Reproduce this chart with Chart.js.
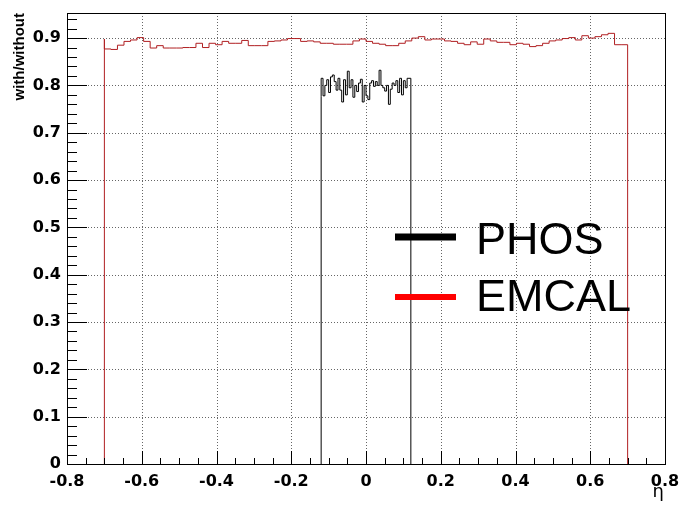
<!DOCTYPE html>
<html><head><meta charset="utf-8">
<script src="https://cdn.jsdelivr.net/npm/chart.js@4/dist/chart.umd.min.js"></script>
<style>html,body{margin:0;padding:0;background:#fff;}#wrap{width:680px;height:508px;}</style>
</head><body><div id="wrap"><canvas id="c" width="680" height="508"></canvas></div>
<script>
// ---- tick labels ----
const xTicks = [-0.8, -0.6, -0.4, -0.2, 0, 0.2, 0.4, 0.6, 0.8];
const xTickLabels = ['-0.8', '-0.6', '-0.4', '-0.2', '0', '0.2', '0.4', '0.6', '0.8'];
const yTicks = [0, 0.1, 0.2, 0.3, 0.4, 0.5, 0.6, 0.7, 0.8, 0.9];
const yTickLabels = ['0', '0.1', '0.2', '0.3', '0.4', '0.5', '0.6', '0.7', '0.8', '0.9'];
const xAxisTitle = 'η';
const yAxisTitle = 'with/without';
const seriesNames = ['PHOS', 'EMCAL'];

// ---- histogram ranges (bin edges) ----
const emcalRange = [-0.7, 0.7];
const phosRange = [-0.12, 0.12];

// ---- series values (one per bin) ----
const emcalValues = [
  0.898, 0.877, 0.876, 0.885, 0.893, 0.896, 0.901, 0.893, 0.879, 0.884,
  0.879, 0.879, 0.879, 0.880, 0.880, 0.889, 0.880, 0.889, 0.886, 0.893,
  0.889, 0.889, 0.895, 0.884, 0.884, 0.884, 0.893, 0.894, 0.896, 0.899,
  0.899, 0.893, 0.894, 0.892, 0.889, 0.889, 0.887, 0.887, 0.887, 0.894,
  0.898, 0.893, 0.889, 0.887, 0.884, 0.884, 0.889, 0.894, 0.900, 0.903,
  0.896, 0.898, 0.898, 0.894, 0.893, 0.889, 0.886, 0.892, 0.887, 0.898,
  0.894, 0.891, 0.891, 0.886, 0.889, 0.887, 0.882, 0.884, 0.889, 0.894,
  0.896, 0.899, 0.901, 0.896, 0.905, 0.900, 0.903, 0.907, 0.910, 0.886
];
const phosValues = [
  0.777, 0.815, 0.778, 0.800, 0.812, 0.785, 0.818, 0.822, 0.808, 0.790,
  0.815, 0.790, 0.765, 0.812, 0.780, 0.830, 0.795, 0.812, 0.775, 0.800,
  0.787, 0.805, 0.813, 0.765, 0.800, 0.778, 0.770, 0.805, 0.810, 0.798,
  0.808, 0.800, 0.832, 0.800, 0.795, 0.788, 0.800, 0.760, 0.792, 0.805,
  0.800, 0.810, 0.785, 0.815, 0.780, 0.810, 0.795, 0.815
];

function histPoints(range, vals) {
  const lo = range[0], hi = range[1], n = vals.length, w = (hi - lo) / n;
  const pts = [{x: lo, y: 0}];
  vals.forEach((v, i) => pts.push({x: lo + i * w, y: v}));
  pts.push({x: hi, y: vals[n - 1]});
  pts.push({x: hi, y: 0});
  return pts;
}

const tickFont = {family: "'DejaVu Sans', sans-serif", weight: 'bold', size: 16};
const EMCAL_COLOR = '#b01f22';

const rootStyle = {
  id: 'rootStyle',
  beforeDatasetsDraw(chart) {
    const {ctx, chartArea: a, scales: {x, y}} = chart;
    ctx.save();
    ctx.strokeStyle = '#666';
    ctx.lineWidth = 1;
    ctx.setLineDash([1, 2]);
    xTicks.forEach(v => {
      if (v <= x.min || v >= x.max) return;
      const px = Math.round(x.getPixelForValue(v)) + 0.5;
      ctx.beginPath(); ctx.moveTo(px, a.top); ctx.lineTo(px, a.bottom); ctx.stroke();
    });
    yTicks.forEach(v => {
      if (v <= y.min || v >= y.max) return;
      const py = Math.round(y.getPixelForValue(v)) + 0.5;
      ctx.beginPath(); ctx.moveTo(a.left, py); ctx.lineTo(a.right, py); ctx.stroke();
    });
    ctx.restore();
  },
  afterDatasetsDraw(chart) {
    const {ctx, chartArea: a, scales: {x, y}} = chart;
    ctx.save();
    ctx.strokeStyle = '#000';
    ctx.lineWidth = 1;
    ctx.setLineDash([]);
    ctx.strokeRect(Math.round(a.left) + 0.5, Math.round(a.top) + 0.5,
      Math.round(a.right - a.left), Math.round(a.bottom - a.top));
    // x ticks (inward)
    const xMinor = 0.05;
    for (let k = 0; k <= Math.round((x.max - x.min) / xMinor); k++) {
      const v = x.min + k * xMinor;
      const isMajor = k % 4 === 0;
      const px = Math.round(x.getPixelForValue(v)) + 0.5;
      ctx.beginPath(); ctx.moveTo(px, a.bottom); ctx.lineTo(px, a.bottom - (isMajor ? 13 : 6)); ctx.stroke();
    }
    // y ticks (inward)
    const yMinor = 0.02;
    for (let k = 0; k * yMinor <= y.max + 1e-9; k++) {
      const v = k * yMinor;
      const isMajor = k % 5 === 0;
      const py = Math.round(y.getPixelForValue(v)) + 0.5;
      ctx.beginPath(); ctx.moveTo(a.left, py); ctx.lineTo(a.left + (isMajor ? 20 : 10), py); ctx.stroke();
    }
    ctx.restore();
  },
  afterDraw(chart) {
    const {ctx, chartArea: a} = chart;
    ctx.save();
    // y title
    ctx.fillStyle = '#000';
    ctx.font = "bold 15px 'Liberation Sans', Arial, sans-serif";
    ctx.translate(24, a.top);
    ctx.rotate(-Math.PI / 2);
    ctx.textAlign = 'right';
    ctx.textBaseline = 'alphabetic';
    ctx.fillText(yAxisTitle, 0, 0);
    ctx.restore();
    ctx.save();
    ctx.fillStyle = '#000';
    ctx.font = "18px 'DejaVu Sans', sans-serif";
    ctx.textAlign = 'right';
    ctx.fillText(xAxisTitle, a.right - 1, 497);
    // legend
    const entries = [
      {name: seriesNames[0], color: '#000', y: 237, w: 7, base: 254},
      {name: seriesNames[1], color: '#ff0000', y: 297, w: 6, base: 311}
    ];
    ctx.font = "45px 'Liberation Sans', Arial, sans-serif";
    ctx.textAlign = 'left';
    entries.forEach(e => {
      ctx.strokeStyle = e.color;
      ctx.lineWidth = e.w;
      ctx.beginPath(); ctx.moveTo(395, e.y); ctx.lineTo(456, e.y); ctx.stroke();
      ctx.fillStyle = '#000';
      ctx.fillText(e.name, 476, e.base);
    });
    ctx.restore();
  }
};

new Chart(document.getElementById('c'), {
  type: 'line',
  data: {
    datasets: [
      {label: seriesNames[0], data: histPoints(phosRange, phosValues), borderColor: '#000',
       borderWidth: 1, stepped: 'after', pointRadius: 0, fill: false, order: 0},
      {label: seriesNames[1], data: histPoints(emcalRange, emcalValues), borderColor: EMCAL_COLOR,
       borderWidth: 1, stepped: 'after', pointRadius: 0, fill: false, order: 1}
    ]
  },
  options: {
    responsive: false,
    animation: false,
    devicePixelRatio: 1,
    layout: {padding: {top: 13, right: 15, left: 0, bottom: 0}},
    plugins: {legend: {display: false}, tooltip: {enabled: false}},
    scales: {
      x: {
        type: 'linear', min: -0.8, max: 0.8,
        afterBuildTicks: s => { s.ticks = xTicks.map(v => ({value: v})); },
        afterFit: s => { s.height = 44; s.paddingLeft = 0; s.paddingRight = 0; },
        ticks: {callback: (v, i) => xTickLabels[i], font: tickFont, color: '#000',
                maxRotation: 0, autoSkip: false, padding: 8},
        grid: {display: false, drawTicks: false},
        border: {display: false}
      },
      y: {
        type: 'linear', min: 0, max: 0.953,
        afterBuildTicks: s => { s.ticks = yTicks.map(v => ({value: v})); },
        afterFit: s => { s.width = 67; s.paddingTop = 0; s.paddingBottom = 0; },
        ticks: {callback: (v, i) => yTickLabels[i], font: tickFont, color: '#000',
                autoSkip: false, padding: 6},
        grid: {display: false, drawTicks: false},
        border: {display: false}
      }
    }
  },
  plugins: [rootStyle]
});
</script>
</body></html>
